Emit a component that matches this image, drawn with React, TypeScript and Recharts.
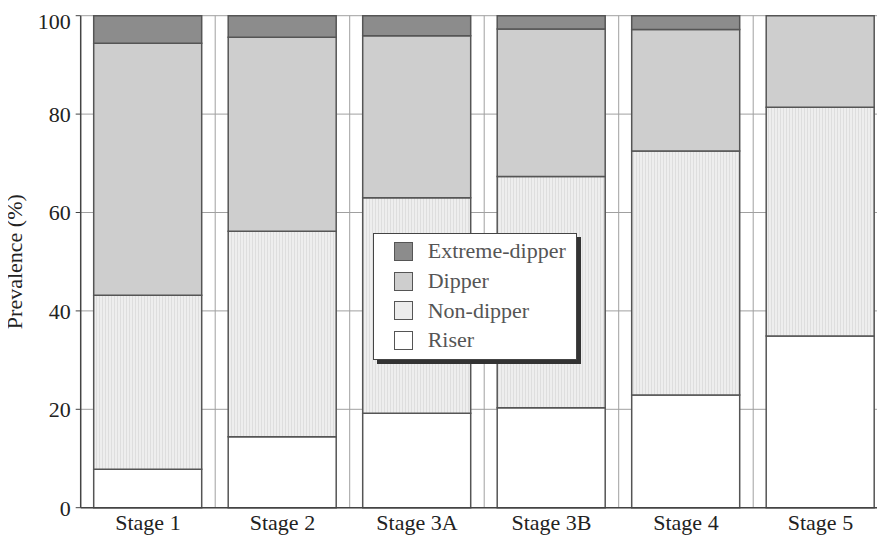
import { BarChart, Bar, XAxis, YAxis, CartesianGrid, Legend } from "recharts";

const stages = ["Stage 1", "Stage 2", "Stage 3A", "Stage 3B", "Stage 4", "Stage 5"];
const riser = [7.8, 14.4, 19.2, 20.3, 22.9, 34.9];
const nonDipper = [35.4, 41.8, 43.8, 47.0, 49.6, 46.5];
const dipper = [51.2, 39.4, 32.9, 30.0, 24.7, 18.6];
const extremeDipper = [5.6, 4.4, 4.1, 2.7, 2.8, 0];
const yTicks = [0, 20, 40, 60, 80, 100];
const minorTicks = [5, 10, 15, 25, 30, 35, 45, 50, 55, 65, 70, 75, 85, 90, 95];

const data = stages.map((stage, i) => ({
  stage,
  riser: riser[i],
  nonDipper: nonDipper[i],
  dipper: dipper[i],
  extreme: extremeDipper[i],
}));

const FONT = "'Liberation Serif', 'DejaVu Serif', serif";
const EDGE = "#555";

// legend rows, top to bottom (reverse of stack order)
const legendItems = [
  { label: "Extreme-dipper", fill: "#8c8c8c" },
  { label: "Dipper", fill: "#cecece" },
  { label: "Non-dipper", fill: "#ececec" },
  { label: "Riser", fill: "#ffffff" },
];

function LegendBox() {
  return (
    <div
      style={{
        background: "#fff",
        border: "1.5px solid #444",
        boxShadow: "4px 4px 0 #333",
        padding: "3px 0 4px 20px",
        fontFamily: FONT,
        fontSize: 22,
        color: "#555",
      }}
    >
      {legendItems.map((it) => (
        <div key={it.label} style={{ display: "flex", alignItems: "center", height: 29.6 }}>
          <span
            style={{
              display: "inline-block",
              width: 17,
              height: 17,
              background: it.fill,
              border: "1.5px solid #555",
              marginRight: 15,
            }}
          />
          <span style={{ lineHeight: "22px" }}>{it.label}</span>
        </div>
      ))}
    </div>
  );
}

export default function App() {
  // shift left over the body margin so the y label has room
  return (
    <div style={{ marginLeft: -8, width: 885, height: 530, overflow: "hidden", fontFamily: FONT }}>
      <BarChart
        width={898}
        height={530}
        data={data}
        margin={{ top: 7.7, right: 10.3, left: 8, bottom: 0 }}
        barSize={108}
      >
        <defs>
          <pattern id="ndPattern" width="3" height="3" patternUnits="userSpaceOnUse">
            <rect width="3" height="3" fill="#eeeeee" />
            <line x1="0.5" y1="0" x2="0.5" y2="3" stroke="#dedede" strokeWidth="1" />
          </pattern>
        </defs>
        <CartesianGrid
          stroke="#a0a0a0"
          strokeWidth={1}
          verticalCoordinatesGenerator={({ offset }: any) =>
            stages.map((_, i) => offset.left + (offset.width * (i + 1)) / stages.length)
          }
        />
        <XAxis
          dataKey="stage"
          height={30.3}
          axisLine={{ stroke: "#444", strokeWidth: 1.5 }}
          tickLine={false}
          tickSize={0}
          tickMargin={7}
          tick={{ fill: "#222", fontSize: 22, fontFamily: FONT }}
        />
        <YAxis
          domain={[0, 100]}
          ticks={yTicks}
          width={72.7}
          axisLine={{ stroke: "#444", strokeWidth: 1.5 }}
          tickLine={{ stroke: "#444" }}
          tickSize={5}
          tickMargin={5}
          tick={{ fill: "#222", fontSize: 22, fontFamily: FONT }}
          label={{
            value: "Prevalence (%)",
            angle: -90,
            position: "insideLeft",
            offset: 6.5,
            style: { textAnchor: "middle", fill: "#222", fontSize: 22, fontFamily: FONT },
          }}
        />
        <YAxis
          yAxisId="minor"
          domain={[0, 100]}
          ticks={minorTicks}
          width={0}
          mirror
          axisLine={false}
          tick={false}
          tickSize={3}
          tickLine={{ stroke: "#666" }}
        />
        <Legend
          layout="horizontal"
          verticalAlign="middle"
          content={() => <LegendBox />}
          wrapperStyle={{ left: 372.7, top: 224.7, width: 204, height: "auto" }}
        />
        <Bar dataKey="riser" stackId="s" fill="#ffffff" stroke={EDGE} strokeWidth={1.5} isAnimationActive={false} />
        <Bar dataKey="nonDipper" stackId="s" fill="url(#ndPattern)" stroke={EDGE} strokeWidth={1.5} isAnimationActive={false} />
        <Bar dataKey="dipper" stackId="s" fill="#cecece" stroke={EDGE} strokeWidth={1.5} isAnimationActive={false} />
        <Bar dataKey="extreme" stackId="s" fill="#8c8c8c" stroke={EDGE} strokeWidth={1.5} isAnimationActive={false} />
      </BarChart>
    </div>
  );
}
